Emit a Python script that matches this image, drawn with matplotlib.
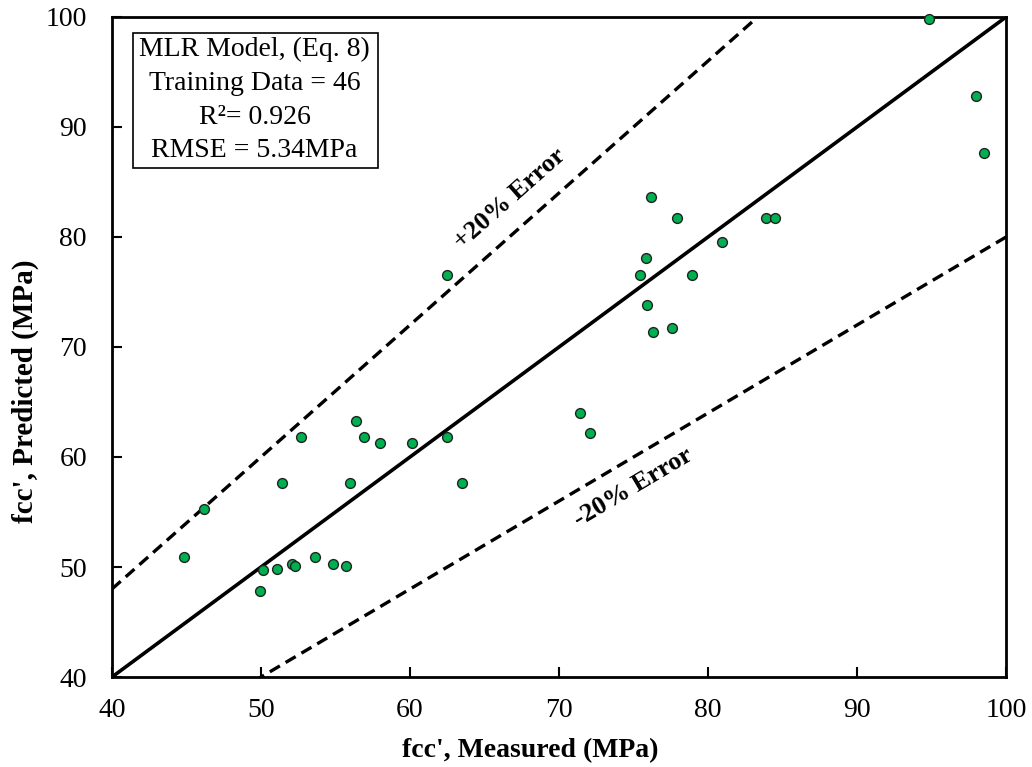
import numpy as np
import matplotlib.pyplot as plt
from matplotlib.patches import Rectangle

plt.rcParams['font.family'] = ['Liberation Serif', 'DejaVu Serif']

# measured vs predicted values (MPa)
measured = [44.8, 46.2, 49.9, 50.1, 51.1, 52.1, 52.3, 53.6, 54.8, 55.7,
            51.4, 56.0, 63.5, 52.7, 56.4, 56.9, 58.0, 60.1, 62.5, 62.5,
            71.4, 72.1, 75.4, 75.8, 75.9, 76.2, 76.3, 77.6, 77.9, 78.9,
            80.9, 83.9, 84.5, 94.8, 98.0, 98.5]
predicted = [50.9, 55.3, 47.8, 49.7, 49.8, 50.3, 50.1, 50.9, 50.3, 50.1,
             57.6, 57.6, 57.6, 61.8, 63.3, 61.85, 61.25, 61.25, 61.85, 76.5,
             64.0, 62.2, 76.5, 78.1, 73.8, 83.6, 71.4, 71.7, 81.7, 76.5,
             79.5, 81.7, 81.7, 99.8, 92.8, 87.6]

line_x = [40, 100]
ticks = [40, 50, 60, 70, 80, 90, 100]

fig = plt.figure(figsize=(10.32, 7.67), dpi=100)
ax = fig.add_axes([0.1085, 0.1173, 0.8665, 0.8607])

x = np.array(line_x)
ax.plot(x, x, color='black', lw=2.6, zorder=2)
ax.plot(x, 1.2 * x, color='black', lw=2.4, ls=(0, (3.5, 2)), zorder=2)
ax.plot(x, 0.8 * x, color='black', lw=2.4, ls=(0, (3.5, 2)), zorder=2)

ax.scatter(measured, predicted, s=50, color='#00B050', edgecolor='#222222',
           linewidth=1.0, zorder=3, clip_on=False)

ax.text(66.7, 83.5, '+20% Error', rotation=41.5, ha='center', va='center',
        fontsize=19, fontweight='bold', rotation_mode='anchor')
ax.text(75.0, 57.2, '-20% Error', rotation=30.6, ha='center', va='center',
        fontsize=19, fontweight='bold', rotation_mode='anchor')

# info box
ax.add_patch(Rectangle((0.0235, 0.7712), 0.274, 0.2045, transform=ax.transAxes,
                       fc='white', ec='black', lw=1.2, zorder=4))
ax.text(0.1594, 0.874,
        'MLR Model, (Eq. 8)\nTraining Data = 46\nR\u00b2= 0.926\nRMSE = 5.34MPa',
        transform=ax.transAxes, ha='center', va='center', fontsize=20,
        linespacing=1.46, zorder=5)

ax.set_xlim(40, 100)
ax.set_ylim(40, 100)
ax.set_xticks(ticks)
ax.set_yticks(ticks)
ax.tick_params(direction='in', length=7, width=1.5, labelsize=20)
ax.tick_params(axis='x', pad=15)
ax.tick_params(axis='y', pad=18)
for s in ax.spines.values():
    s.set_linewidth(2)

ax.set_xlabel("fcc', Measured (MPa)", fontsize=20, fontweight='bold')
ax.set_ylabel("fcc', Predicted (MPa)", fontsize=21, fontweight='bold')
ax.xaxis.set_label_coords(0.4675, -0.092)
ax.yaxis.set_label_coords(-0.082, 0.433)

fig.savefig('out.png', dpi=100)
